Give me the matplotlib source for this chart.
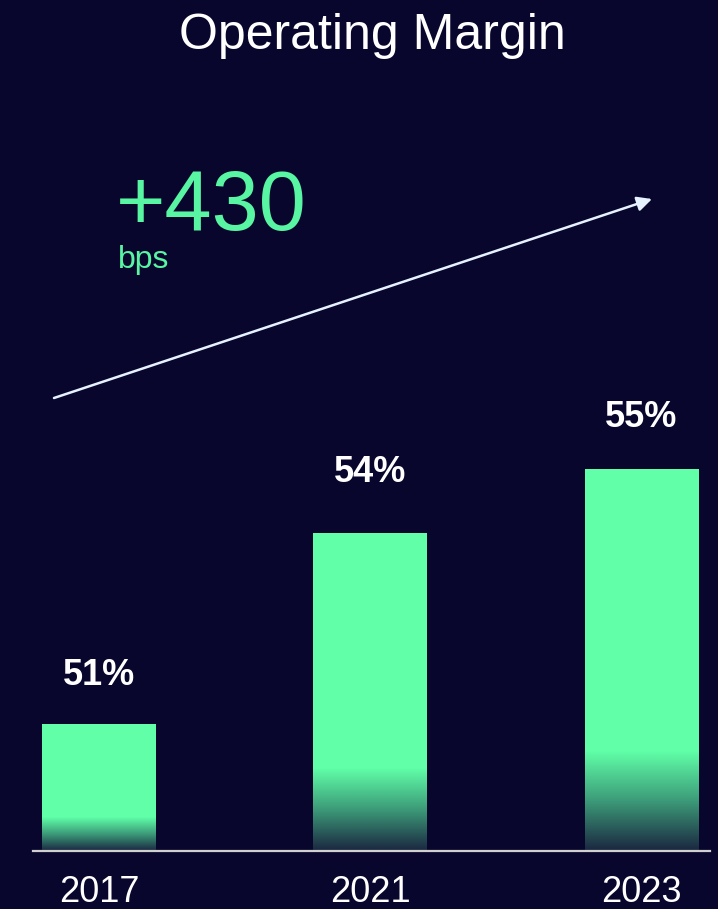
import numpy as np
import matplotlib.pyplot as plt
from matplotlib.colors import LinearSegmentedColormap
from matplotlib.lines import Line2D

plt.rcParams['font.family'] = ['Liberation Sans', 'DejaVu Sans']

years = ['2017', '2021', '2023']
margin = [51, 54, 55]
labels = ['51%', '54%', '55%']
change_text = '+430'
change_unit = 'bps'

bg = '#08062c'
green = '#60ffa8'
W, H = 718, 909

fig = plt.figure(figsize=(W / 100, H / 100), dpi=100, facecolor=bg)
# axes: bottom at the baseline (y=851 px), full width
ax = fig.add_axes([0, (H - 851) / H, 1, 851 / H])
ax.set_facecolor(bg)

px_x = 271.25
xpos = np.arange(len(years))
xlim = (-99 / px_x, (W - 99) / px_x)
ylim = (49, 49 + 851 / 63.67)
ax.set_xlim(xlim)
ax.set_ylim(ylim)
bw = 114 / px_x

bars = ax.bar(xpos, margin, width=bw, bottom=0, color=green, zorder=2)

# fade toward the bottom of each bar
cmap = LinearSegmentedColormap.from_list('fade', ['#1a2640', '#3c9a78', green])
grad = np.linspace(0, 1, 256).reshape(-1, 1)
y0 = ylim[0]
for b in bars:
    h = (b.get_height() - y0) * 0.26
    im = ax.imshow(grad, cmap=cmap, aspect='auto', origin='lower', zorder=3,
                   extent=[b.get_x() - 0.02, b.get_x() + b.get_width() + 0.02,
                           y0, y0 + h],
                   interpolation='bilinear')
    im.set_clip_path(b)
ax.set_xlim(xlim)
ax.set_ylim(ylim)

# label baseline distance above bar top, in pixels
label_gap = [39, 51, 42]
for x, v, t, g in zip(xpos, margin, labels, label_gap):
    ax.annotate(t, (x, v), xytext=(0, g * 0.72), textcoords='offset points',
                ha='center', va='baseline', color='white', fontsize=26,
                fontweight='bold')

ax.set_xticks(xpos)
ax.set_xticklabels(years, fontsize=26, color='white')
ax.tick_params(axis='x', length=0, pad=17)
ax.set_yticks([])
for s in ax.spines.values():
    s.set_visible(False)

# baseline
fig.add_artist(Line2D([33 / W, 710 / W], [1 - 851 / H, 1 - 851 / H],
                      color='#d0d0d0', lw=1.6, transform=fig.transFigure))

fig.text(372 / W, 1 - 49 / H, 'Operating Margin', ha='center', va='baseline',
         color='white', fontsize=36)
fig.text(116 / W, 1 - 230 / H, change_text, ha='left', va='baseline',
         color='#58f5a2', fontsize=61)
fig.text(118 / W, 1 - 268 / H, change_unit, ha='left', va='baseline',
         color='#58f5a2', fontsize=23)

ax.annotate('', xy=(652 / W, 1 - 199 / H), xytext=(54 / W, 1 - 398 / H),
            xycoords='figure fraction', textcoords='figure fraction',
            arrowprops=dict(arrowstyle='-|>', color='#e6f2ff', lw=1.8,
                            mutation_scale=22, shrinkA=0, shrinkB=0))

fig.savefig('out.png', dpi=100, facecolor=bg)
